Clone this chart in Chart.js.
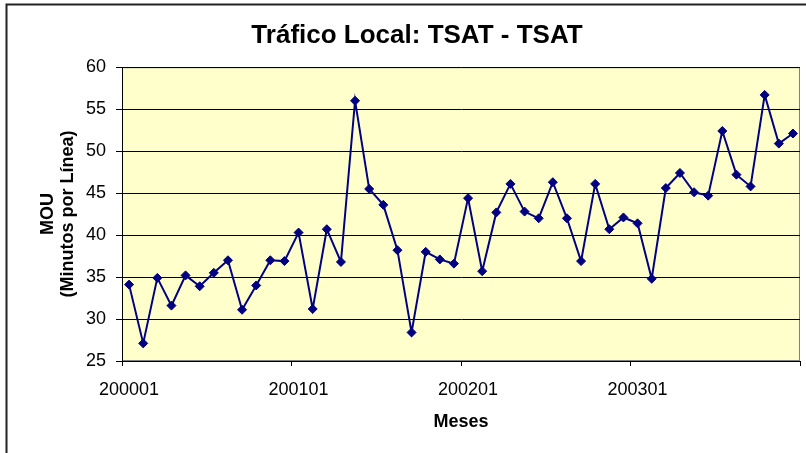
<!DOCTYPE html>
<html>
<head>
<meta charset="utf-8">
<script src="https://cdn.jsdelivr.net/npm/chart.js@4/dist/chart.umd.min.js"></script>
<style>
  html, body { margin: 0; padding: 0; background: #ffffff; }
  #wrap { width: 806px; height: 453px; }
</style>
</head>
<body>
<div id="wrap"><canvas id="c" width="806" height="453"></canvas></div>
<script>
const categories = [
  '200001','200002','200003','200004','200005','200006','200007','200008','200009','200010','200011','200012',
  '200101','200102','200103','200104','200105','200106','200107','200108','200109','200110','200111','200112',
  '200201','200202','200203','200204','200205','200206','200207','200208','200209','200210','200211','200212',
  '200301','200302','200303','200304','200305','200306','200307','200308','200309','200310','200311','200312'
];
const mouValues = [
  34.1, 27.1, 34.9, 31.6, 35.2, 33.9, 35.5, 37.0, 31.1, 34.0, 37.0, 36.9,
  40.3, 31.2, 40.7, 36.8, 56.0, 45.5, 43.6, 38.2, 28.4, 38.0, 37.1, 36.6,
  44.4, 35.7, 42.7, 46.1, 42.8, 42.0, 46.3, 42.0, 36.9, 46.1, 40.7, 42.1,
  41.4, 34.8, 45.6, 47.4, 45.1, 44.7, 52.4, 47.2, 45.8, 56.7, 50.9, 52.1
];
const yTicks = [25, 30, 35, 40, 45, 50, 55, 60];
const labelEvery = 12;

const FONT = "'Liberation Sans', Arial, sans-serif";
Chart.defaults.font.family = FONT;
Chart.defaults.color = '#000000';

const decor = {
  id: 'decor',
  beforeDraw(chart) {
    const { ctx, chartArea: a } = chart;
    ctx.save();
    ctx.fillStyle = '#ffffff';
    ctx.fillRect(0, 0, chart.width, chart.height);
    ctx.fillStyle = '#FFFFCC';
    ctx.fillRect(a.left, a.top, a.right - a.left, a.bottom - a.top);
    ctx.strokeStyle = '#808080';
    ctx.lineWidth = 1;
    ctx.strokeRect(a.left + 0.5, a.top + 0.5, a.right - a.left - 1, a.bottom - a.top - 1);
    ctx.strokeStyle = '#222222';
    ctx.lineWidth = 2;
    ctx.strokeRect(6.5, 4.5, 1200, 800);
    ctx.restore();
  }
};

new Chart(document.getElementById('c'), {
  type: 'line',
  data: {
    labels: categories,
    datasets: [{
      data: mouValues,
      borderColor: '#000080',
      backgroundColor: '#000080',
      borderWidth: 2,
      pointStyle: 'rectRot',
      pointRadius: 4.5,
      pointBackgroundColor: '#000080',
      pointBorderColor: '#000080',
      pointBorderWidth: 1,
      tension: 0,
      fill: false
    }]
  },
  options: {
    responsive: false,
    animation: false,
    devicePixelRatio: 1,
    layout: { padding: { left: 30, right: 2, top: 0, bottom: 0 } },
    plugins: {
      legend: { display: false },
      tooltip: { enabled: false },
      title: {
        display: true,
        text: 'Tráfico Local: TSAT - TSAT',
        color: '#000000',
        font: { size: 26, weight: 'bold', family: FONT, lineHeight: 1.2 },
        padding: { top: 20, bottom: 16 }
      }
    },
    scales: {
      x: {
        type: 'category',
        offset: true,
        grid: {
          offset: true,
          drawOnChartArea: false,
          drawTicks: true,
          tickLength: 5,
          color: (c) => (c.type === 'tick' ? (c.index % labelEvery === 0 ? '#000000' : 'rgba(0,0,0,0)') : '#000000'),
          lineWidth: 1
        },
        border: { display: true, color: '#000000', width: 1 },
        ticks: {
          autoSkip: false,
          maxRotation: 0,
          minRotation: 0,
          padding: 13,
          font: { size: 18, family: FONT },
          color: '#000000',
          callback: function (v, i) { return i % labelEvery === 0 ? categories[i] : ''; }
        },
        title: {
          display: true,
          text: 'Meses',
          color: '#000000',
          font: { size: 18, weight: 'bold', family: FONT, lineHeight: 1.2 },
          padding: { top: 0, bottom: 20 }
        },
        afterFit: (s) => { s.height = 92; }
      },
      y: {
        min: 25,
        max: 60,
        afterBuildTicks: (s) => { s.ticks = yTicks.map(v => ({ value: v })); },
        grid: {
          color: '#000000',
          lineWidth: 1,
          drawTicks: true,
          tickLength: 6,
          tickColor: '#000000'
        },
        border: { display: true, color: '#000000', width: 1 },
        ticks: {
          padding: 10,
          font: { size: 18, family: FONT },
          color: '#000000'
        },
        title: {
          display: true,
          text: ['MOU', '(Minutos por Línea)'],
          color: '#000000',
          font: { size: 18, weight: 'bold', family: FONT, lineHeight: 1.1 },
          padding: { top: 8, bottom: 0 }
        },
        afterFit: (s) => { s.width = 92; }
      }
    }
  },
  plugins: [decor]
});
</script>
</body>
</html>
